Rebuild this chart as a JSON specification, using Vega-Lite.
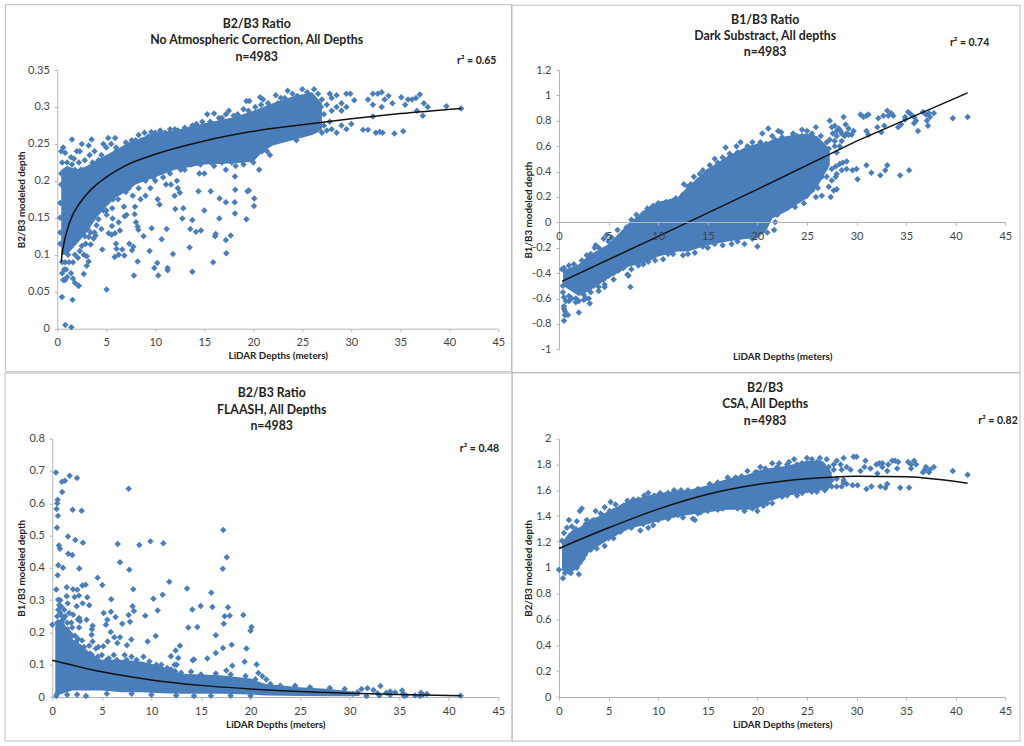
{"$schema":"https://vega.github.io/schema/vega-lite/v6.json","autosize":"none","padding":{"left":52.3,"top":70,"right":971.7,"bottom":676},"background":"white","bounds":"flush","spacing":368.7,
"config":{"view":{"stroke":null},"axis":{"grid":false,"labelFont":"Lato","labelFontSize":11,"labelColor":"#444","domainColor":"#b5b5b5","tickColor":"#b5b5b5","tickSize":3,"labelPadding":5,"titleFont":"Lato","titleFontSize":9.8,"titleFontWeight":"bold","titleColor":"#222","labelExpr":"datum.value+''","labelOverlap":false,"labelBound":false,"labelFlush":false},"title":{"font":"Lato","fontSize":12.3,"fontWeight":"bold","color":"#222","lineHeight":16.4,"anchor":"middle","frame":"group"}},
"datasets":{
"f1":[{"x":-5.29,"x2":46.35,"y":0.4384,"y2":-0.0582}],
"f2":[{"x":-4.74,"x2":46.49,"y":1.71,"y2":-1.182}],
"f3":[{"x":-4.77,"x2":46.4,"y":1.0034,"y2":-0.1363}],
"f4":[{"x":-4.74,"x2":46.49,"y":2.509,"y2":-0.341}],
"t1":[{"x":42.8,"y":0.3626,"t":"r² = 0.65"}],
"t2":[{"x":41.4,"y":1.41,"t":"r² = 0.74"}],
"t3":[{"x":43.1,"y":0.768,"t":"r² = 0.48"}],
"t4":[{"x":44.27,"y":2.135,"t":"r² = 0.82"}],
"a1":[{"x":0.4,"y":0.1,"y2":0.215},{"x":1,"y":0.1,"y2":0.22},{"x":2,"y":0.115,"y2":0.215},{"x":3,"y":0.13,"y2":0.22},{"x":4,"y":0.15,"y2":0.228},{"x":5,"y":0.165,"y2":0.235},{"x":6,"y":0.178,"y2":0.242},{"x":7,"y":0.185,"y2":0.25},{"x":8,"y":0.195,"y2":0.255},{"x":10,"y":0.205,"y2":0.266},{"x":12,"y":0.215,"y2":0.268},{"x":15,"y":0.222,"y2":0.278},{"x":18,"y":0.224,"y2":0.286},{"x":20,"y":0.226,"y2":0.295},{"x":21,"y":0.24,"y2":0.3},{"x":22,"y":0.248,"y2":0.305},{"x":24,"y":0.255,"y2":0.314},{"x":26,"y":0.262,"y2":0.32},{"x":27,"y":0.268,"y2":0.305}],
"a2":[{"x":0.4,"y":-0.5,"y2":-0.38},{"x":2,"y":-0.58,"y2":-0.33},{"x":3,"y":-0.54,"y2":-0.26},{"x":5,"y":-0.44,"y2":-0.17},{"x":7,"y":-0.35,"y2":-0.01},{"x":9,"y":-0.31,"y2":0.12},{"x":10,"y":-0.27,"y2":0.16},{"x":12,"y":-0.23,"y2":0.2},{"x":13,"y":-0.23,"y2":0.28},{"x":15,"y":-0.18,"y2":0.42},{"x":17,"y":-0.15,"y2":0.52},{"x":19,"y":-0.13,"y2":0.6},{"x":20,"y":-0.13,"y2":0.62},{"x":21,"y":-0.05,"y2":0.63},{"x":21.5,"y":0.03,"y2":0.65},{"x":23,"y":0.09,"y2":0.68},{"x":25,"y":0.19,"y2":0.7},{"x":26,"y":0.27,"y2":0.68},{"x":27.3,"y":0.45,"y2":0.58}],
"a3":[{"x":0.3,"y":0.005,"y2":0.22},{"x":0.5,"y":0.005,"y2":0.24},{"x":1,"y":0.01,"y2":0.24},{"x":2,"y":0.02,"y2":0.18},{"x":3,"y":0.02,"y2":0.16},{"x":4,"y":0.02,"y2":0.13},{"x":5,"y":0.02,"y2":0.115},{"x":7,"y":0.015,"y2":0.115},{"x":9,"y":0.015,"y2":0.11},{"x":11,"y":0.012,"y2":0.095},{"x":13,"y":0.01,"y2":0.072},{"x":17,"y":0.01,"y2":0.067},{"x":20,"y":0.008,"y2":0.057},{"x":21.5,"y":0.005,"y2":0.04},{"x":25,"y":0.003,"y2":0.03},{"x":28,"y":0.002,"y2":0.025},{"x":30,"y":0.002,"y2":0.018},{"x":31,"y":0.003,"y2":0.012}],
"a4":[{"x":0.3,"y":0.98,"y2":1.2},{"x":1,"y":0.96,"y2":1.27},{"x":2,"y":1,"y2":1.31},{"x":3,"y":1.12,"y2":1.36},{"x":4,"y":1.17,"y2":1.4},{"x":5,"y":1.22,"y2":1.44},{"x":7,"y":1.3,"y2":1.52},{"x":9,"y":1.34,"y2":1.56},{"x":11,"y":1.38,"y2":1.59},{"x":13,"y":1.41,"y2":1.6},{"x":15,"y":1.43,"y2":1.64},{"x":17,"y":1.45,"y2":1.69},{"x":19,"y":1.45,"y2":1.72},{"x":20,"y":1.46,"y2":1.75},{"x":21,"y":1.51,"y2":1.77},{"x":23,"y":1.56,"y2":1.79},{"x":25,"y":1.58,"y2":1.83},{"x":26.5,"y":1.6,"y2":1.83},{"x":27.5,"y":1.64,"y2":1.74}],
"l1":[{"x":0.4,"y":0.09},{"x":0.5,"y":0.102},{"x":0.7,"y":0.117},{"x":1,"y":0.133},{"x":1.5,"y":0.152},{"x":2,"y":0.164},{"x":3,"y":0.182},{"x":4,"y":0.195},{"x":5,"y":0.205},{"x":7,"y":0.221},{"x":10,"y":0.236},{"x":15,"y":0.254},{"x":20,"y":0.267},{"x":25,"y":0.276},{"x":30,"y":0.284},{"x":35,"y":0.291},{"x":41.2,"y":0.298}],
"l2":[{"x":0.3,"y":-0.465},{"x":10,"y":-0.11},{"x":20,"y":0.26},{"x":30,"y":0.64},{"x":41.2,"y":1.02}],
"l3":[{"x":0,"y":0.114},{"x":5,"y":0.078},{"x":10,"y":0.053},{"x":15,"y":0.036},{"x":20,"y":0.025},{"x":25,"y":0.017},{"x":30,"y":0.012},{"x":35,"y":0.008},{"x":41.2,"y":0.004}],
"l4":[{"x":0,"y":1.15},{"x":5,"y":1.31},{"x":10,"y":1.455},{"x":15,"y":1.57},{"x":20,"y":1.645},{"x":25,"y":1.69},{"x":30,"y":1.71},{"x":35,"y":1.705},{"x":41.2,"y":1.655}],
"p1":[{"x":0.48,"y":0.043},{"x":1.56,"y":0.039},{"x":0.82,"y":0.005},{"x":1.43,"y":0.002},{"x":5.03,"y":0.053},{"x":2.14,"y":0.058},{"x":7.82,"y":0.072},{"x":8.2,"y":0.091},{"x":10.3,"y":0.072},{"x":9.9,"y":0.082},{"x":10.2,"y":0.089},{"x":11.26,"y":0.082},{"x":11.26,"y":0.079},{"x":11.8,"y":0.101},{"x":13.78,"y":0.077},{"x":13.5,"y":0.11},{"x":15.9,"y":0.09},{"x":17.25,"y":0.102},{"x":17.2,"y":0.12},{"x":17.7,"y":0.126},{"x":19.3,"y":0.148},{"x":20.07,"y":0.166},{"x":20.1,"y":0.176},{"x":19.4,"y":0.186},{"x":19.55,"y":0.187},{"x":18.13,"y":0.156},{"x":18.1,"y":0.171},{"x":18.16,"y":0.188},{"x":18.13,"y":0.206},{"x":17.2,"y":0.171},{"x":16.56,"y":0.176},{"x":15.65,"y":0.186},{"x":14.4,"y":0.186},{"x":16.53,"y":0.149},{"x":16.1,"y":0.125},{"x":16.16,"y":0.128},{"x":15,"y":0.16},{"x":13.78,"y":0.147},{"x":12.76,"y":0.149},{"x":12.86,"y":0.163},{"x":12.04,"y":0.162},{"x":12.5,"y":0.184},{"x":11.97,"y":0.18},{"x":13.57,"y":0.135},{"x":14.15,"y":0.131},{"x":14.66,"y":0.133},{"x":11.16,"y":0.135},{"x":10.65,"y":0.121},{"x":10.44,"y":0.168},{"x":10.24,"y":0.175},{"x":9.63,"y":0.136},{"x":9.42,"y":0.105},{"x":8.8,"y":0.125},{"x":8.27,"y":0.134},{"x":8.2,"y":0.138},{"x":8.03,"y":0.144},{"x":7.9,"y":0.155},{"x":7.93,"y":0.165},{"x":7.76,"y":0.111},{"x":7.62,"y":0.106},{"x":7.35,"y":0.115},{"x":6.84,"y":0.099},{"x":6.26,"y":0.1},{"x":5.85,"y":0.097},{"x":5.99,"y":0.115},{"x":6.05,"y":0.108},{"x":6.63,"y":0.107},{"x":4.59,"y":0.107},{"x":5.24,"y":0.129},{"x":5.54,"y":0.127},{"x":5.88,"y":0.129},{"x":6.39,"y":0.133},{"x":5.58,"y":0.139},{"x":6.26,"y":0.144},{"x":5.65,"y":0.149},{"x":5.03,"y":0.154},{"x":6.87,"y":0.152},{"x":7.07,"y":0.154},{"x":6.8,"y":0.165},
{"x":0.4,"y":0.24},{"x":0.6,"y":0.245},{"x":0.8,"y":0.238},{"x":0.5,"y":0.225},{"x":0.7,"y":0.21},{"x":1.5,"y":0.256},{"x":1.4,"y":0.232},{"x":1.7,"y":0.23},{"x":1.5,"y":0.222},{"x":2,"y":0.24},{"x":2.3,"y":0.24},{"x":2.5,"y":0.25},{"x":3.2,"y":0.248},{"x":3.5,"y":0.256},{"x":3.3,"y":0.235},{"x":2.8,"y":0.228},{"x":2.4,"y":0.215},{"x":3.8,"y":0.24},{"x":4.2,"y":0.228},{"x":4.5,"y":0.235},{"x":4.7,"y":0.25},{"x":5.2,"y":0.258},{"x":5.5,"y":0.25},{"x":5.9,"y":0.258},{"x":5,"y":0.245},{"x":6,"y":0.24},{"x":6.5,"y":0.24},{"x":7,"y":0.252},{"x":7.5,"y":0.25},{"x":8,"y":0.255},{"x":8.3,"y":0.262},{"x":8.9,"y":0.265},{"x":9.6,"y":0.266},{"x":10.5,"y":0.268},{"x":11,"y":0.265},{"x":11.5,"y":0.27},{"x":12.3,"y":0.268},{"x":13,"y":0.272},{"x":13.5,"y":0.27},{"x":14.2,"y":0.277},{"x":15.3,"y":0.29},{"x":16,"y":0.291},{"x":16.5,"y":0.285},{"x":17.5,"y":0.295},{"x":18,"y":0.288},{"x":19,"y":0.297},{"x":19.3,"y":0.308},{"x":19.6,"y":0.308},{"x":20.7,"y":0.313},{"x":21,"y":0.31},{"x":21.8,"y":0.3},{"x":22.3,"y":0.316},{"x":22.8,"y":0.312},{"x":23.5,"y":0.322},{"x":24,"y":0.318},{"x":25,"y":0.324},{"x":25.5,"y":0.32},{"x":26.2,"y":0.324},{"x":26.6,"y":0.318},{"x":27,"y":0.31},{"x":27.8,"y":0.318},{"x":28,"y":0.312},{"x":28.5,"y":0.316},{"x":29,"y":0.305},{"x":29.5,"y":0.318},{"x":29.9,"y":0.318},{"x":30.3,"y":0.309},{"x":29.5,"y":0.3},{"x":28.5,"y":0.3},{"x":28,"y":0.295},{"x":27.5,"y":0.303},{"x":29,"y":0.295},{"x":27,"y":0.265},{"x":27.5,"y":0.268},{"x":28,"y":0.27},{"x":28.5,"y":0.265},{"x":29,"y":0.275},{"x":29.5,"y":0.27},{"x":30,"y":0.277},{"x":31.7,"y":0.31},{"x":32.2,"y":0.318},{"x":32.7,"y":0.318},{"x":33.1,"y":0.32},{"x":33.4,"y":0.31},{"x":33.8,"y":0.315},{"x":34.2,"y":0.305},{"x":35.1,"y":0.313},{"x":35.5,"y":0.303},{"x":35.8,"y":0.31},{"x":36.2,"y":0.31},{"x":36.6,"y":0.312},{"x":37,"y":0.317},{"x":37.4,"y":0.305},{"x":37.8,"y":0.3},{"x":36.7,"y":0.295},{"x":37.3,"y":0.288},{"x":32.2,"y":0.303},{"x":32.2,"y":0.287},{"x":31.2,"y":0.269},{"x":31.7,"y":0.269},{"x":32.5,"y":0.265},{"x":32.9,"y":0.266},{"x":33.2,"y":0.265},{"x":34.4,"y":0.264},{"x":35.3,"y":0.267},{"x":39.7,"y":0.301},{"x":41.2,"y":0.298},{"x":33.1,"y":0.3},
{"x":0.5,"y":0.09},{"x":0.7,"y":0.08},{"x":0.5,"y":0.075},{"x":0.9,"y":0.08},{"x":0.8,"y":0.066},{"x":0.6,"y":0.066},{"x":1,"y":0.07},{"x":1.4,"y":0.075},{"x":1.6,"y":0.068},{"x":1.8,"y":0.062},{"x":2.2,"y":0.058},{"x":2.7,"y":0.074},{"x":3,"y":0.085},{"x":3.2,"y":0.091},{"x":2.1,"y":0.096},{"x":1.8,"y":0.1},{"x":2.7,"y":0.1},{"x":3,"y":0.098},{"x":2.5,"y":0.112},{"x":3.4,"y":0.114},{"x":3.7,"y":0.122},{"x":3.9,"y":0.126},{"x":3.2,"y":0.124},{"x":2.8,"y":0.125},{"x":4,"y":0.14},{"x":4.2,"y":0.148},{"x":4.5,"y":0.135},{"x":3.8,"y":0.13},{"x":5,"y":0.16},{"x":4.7,"y":0.16},{"x":5.6,"y":0.163},{"x":6.2,"y":0.175},{"x":7,"y":0.185},{"x":7.7,"y":0.18},{"x":8.5,"y":0.175},{"x":9,"y":0.18},{"x":9.5,"y":0.19},{"x":10,"y":0.2},{"x":11.1,"y":0.195},{"x":11.6,"y":0.195},{"x":12.2,"y":0.2},{"x":12.3,"y":0.19},{"x":13,"y":0.215},{"x":14.5,"y":0.21},{"x":15,"y":0.21},{"x":16,"y":0.22},{"x":17.2,"y":0.215},{"x":18.2,"y":0.22},{"x":19,"y":0.222},{"x":20,"y":0.225},{"x":20.6,"y":0.215},{"x":20.9,"y":0.24},{"x":21.4,"y":0.24},{"x":21.7,"y":0.235},{"x":22.5,"y":0.255},{"x":23.5,"y":0.262},{"x":24.4,"y":0.255},{"x":0.3,"y":0.13},{"x":0.3,"y":0.15},{"x":0.3,"y":0.17},{"x":0.4,"y":0.195},{"x":0.4,"y":0.21},{"x":0.3,"y":0.115},
{"x":1,"y":0.225},{"x":1.2,"y":0.21},{"x":1.8,"y":0.215},{"x":2.2,"y":0.225},{"x":3,"y":0.215},{"x":3.6,"y":0.225},{"x":0.8,"y":0.09},{"x":1.2,"y":0.09},{"x":1.6,"y":0.09},{"x":1.1,"y":0.1},{"x":2.3,"y":0.105},{"x":2.9,"y":0.115},{"x":3.4,"y":0.13},{"x":3.1,"y":0.135},{"x":4.3,"y":0.165},{"x":4.9,"y":0.17},{"x":5.7,"y":0.175},{"x":6.4,"y":0.185},{"x":7.3,"y":0.19},{"x":8.3,"y":0.19},{"x":9,"y":0.2},{"x":9.8,"y":0.205},{"x":10.8,"y":0.205},{"x":11.5,"y":0.21},{"x":12.6,"y":0.215},{"x":13.6,"y":0.222},{"x":14.6,"y":0.222},{"x":15.7,"y":0.225},{"x":16.8,"y":0.225},{"x":17.8,"y":0.225},{"x":18.8,"y":0.228},{"x":6,"y":0.245},{"x":7.6,"y":0.255},{"x":8.6,"y":0.255},{"x":9.3,"y":0.26},{"x":10,"y":0.265},{"x":12,"y":0.27},{"x":13.8,"y":0.275},{"x":14.8,"y":0.28},{"x":15.6,"y":0.28},{"x":16.8,"y":0.285},{"x":17.2,"y":0.29},{"x":18.4,"y":0.29},{"x":19.5,"y":0.295},{"x":20.2,"y":0.3},{"x":20.8,"y":0.303},{"x":21.5,"y":0.305},{"x":22.5,"y":0.305},{"x":23.2,"y":0.312},{"x":24.5,"y":0.315},{"x":26,"y":0.31},{"x":26.9,"y":0.3},{"x":27.2,"y":0.29},{"x":27.2,"y":0.275},{"x":27.8,"y":0.28}],
"p2":[{"x":0.3,"y":-0.37},{"x":0.5,"y":-0.36},{"x":1,"y":-0.34},{"x":1.5,"y":-0.33},{"x":2.3,"y":-0.3},{"x":2.8,"y":-0.26},{"x":3.2,"y":-0.25},{"x":3.6,"y":-0.2},{"x":3.7,"y":-0.18},{"x":4.5,"y":-0.13},{"x":4.8,"y":-0.1},{"x":5.3,"y":-0.12},{"x":5.9,"y":-0.06},{"x":6.3,"y":-0.1},{"x":6.8,"y":-0.04},{"x":7.3,"y":0.02},{"x":7.8,"y":0.06},{"x":8.5,"y":0.07},{"x":8.9,"y":0.11},{"x":9.5,"y":0.13},{"x":10,"y":0.15},{"x":10.8,"y":0.16},{"x":11.5,"y":0.17},{"x":11.8,"y":0.19},{"x":12.3,"y":0.19},{"x":12.6,"y":0.3},{"x":13,"y":0.28},{"x":13.6,"y":0.36},{"x":14,"y":0.33},{"x":14.5,"y":0.41},{"x":15.2,"y":0.45},{"x":15.7,"y":0.5},{"x":16,"y":0.42},{"x":16.5,"y":0.51},{"x":16.8,"y":0.59},{"x":17.2,"y":0.54},{"x":17.9,"y":0.6},{"x":18.3,"y":0.63},{"x":18.8,"y":0.56},{"x":19.5,"y":0.63},{"x":20,"y":0.6},{"x":20.5,"y":0.7},{"x":20.9,"y":0.62},{"x":21.1,"y":0.74},{"x":21.8,"y":0.65},{"x":22.1,"y":0.72},{"x":22.4,"y":0.71},{"x":23,"y":0.65},{"x":23.6,"y":0.7},{"x":24,"y":0.68},{"x":24.5,"y":0.73},{"x":25,"y":0.72},{"x":25.5,"y":0.68},{"x":25.9,"y":0.75},{"x":26.4,"y":0.68},{"x":27,"y":0.63},{"x":26.9,"y":0.55},{"x":27.3,"y":0.8},{"x":27.8,"y":0.76},{"x":28.2,"y":0.74},{"x":28.7,"y":0.83},{"x":28.4,"y":0.72},{"x":28.9,"y":0.77},{"x":29.2,"y":0.69},{"x":29.7,"y":0.72},{"x":28,"y":0.68},{"x":28.5,"y":0.64},{"x":29.2,"y":0.74},{"x":27.6,"y":0.7},{"x":30.4,"y":0.85},{"x":30.7,"y":0.83},{"x":31,"y":0.84},{"x":31.2,"y":0.85},{"x":31,"y":0.72},{"x":31.2,"y":0.69},{"x":32.1,"y":0.75},{"x":32.2,"y":0.82},{"x":32.8,"y":0.76},{"x":32.7,"y":0.84},{"x":33.2,"y":0.84},{"x":33.7,"y":0.84},{"x":33.1,"y":0.88},{"x":33.5,"y":0.86},{"x":34.2,"y":0.75},{"x":34.5,"y":0.77},{"x":34.9,"y":0.81},{"x":35.2,"y":0.87},{"x":35.5,"y":0.85},{"x":35.8,"y":0.83},{"x":36,"y":0.8},{"x":35.8,"y":0.78},{"x":36.2,"y":0.72},{"x":36.7,"y":0.87},{"x":37,"y":0.85},{"x":37.3,"y":0.86},{"x":37.4,"y":0.83},{"x":37.8,"y":0.86},{"x":37.1,"y":0.8},{"x":37.2,"y":0.76},{"x":39.7,"y":0.82},{"x":41.2,"y":0.83},{"x":32.5,"y":0.71},{"x":34.9,"y":0.83},{"x":27.5,"y":0.42},{"x":27.9,"y":0.44},{"x":28.3,"y":0.46},{"x":28.6,"y":0.47},{"x":29,"y":0.48},{"x":28,"y":0.38},{"x":28.5,"y":0.41},{"x":29,"y":0.42},{"x":29.6,"y":0.41},{"x":30,"y":0.42},{"x":30.1,"y":0.34},{"x":31,"y":0.45},{"x":31.5,"y":0.39},{"x":32.4,"y":0.37},{"x":32.9,"y":0.41},{"x":33.1,"y":0.45},{"x":34.4,"y":0.37},{"x":35.3,"y":0.41},{"x":27,"y":0.36},{"x":27.5,"y":0.33},{"x":27.9,"y":0.36},{"x":27.2,"y":0.28},{"x":27.7,"y":0.25},{"x":28,"y":0.26},{"x":27.4,"y":0.2},{"x":26.5,"y":0.21},{"x":25.9,"y":0.2},{"x":26.1,"y":0.27},{"x":25.5,"y":0.25},{"x":25,"y":0.21},{"x":24.7,"y":0.15},{"x":24.2,"y":0.18},{"x":23.8,"y":0.12},{"x":23,"y":0.11},{"x":22.6,"y":0.11},{"x":22,"y":0.12},{"x":21.7,"y":-0.06},{"x":21,"y":-0.08},{"x":20.5,"y":-0.07},{"x":20,"y":-0.19},{"x":19.5,"y":-0.13},{"x":18.7,"y":-0.17},{"x":18,"y":-0.15},{"x":17.4,"y":-0.17},{"x":16.5,"y":-0.18},{"x":15.7,"y":-0.17},{"x":15,"y":-0.2},{"x":14.5,"y":-0.19},{"x":13.7,"y":-0.24},{"x":13,"y":-0.25},{"x":12.5,"y":-0.26},{"x":11.5,"y":-0.25},{"x":11,"y":-0.25},{"x":10.5,"y":-0.29},{"x":9.7,"y":-0.3},{"x":9,"y":-0.31},{"x":8.5,"y":-0.33},{"x":8,"y":-0.34},{"x":7.3,"y":-0.37},{"x":7,"y":-0.42},{"x":6.9,"y":-0.41},{"x":7.2,"y":-0.51},{"x":5.5,"y":-0.45},{"x":5.5,"y":-0.4},{"x":4.6,"y":-0.49},{"x":4.6,"y":-0.51},{"x":4,"y":-0.51},{"x":4,"y":-0.54},{"x":3.2,"y":-0.55},{"x":3,"y":-0.53},{"x":3.1,"y":-0.64},{"x":3,"y":-0.6},{"x":2.7,"y":-0.6},{"x":2.5,"y":-0.61},{"x":2,"y":-0.62},{"x":1.7,"y":-0.63},{"x":1.7,"y":-0.6},{"x":2,"y":-0.71},{"x":1.3,"y":-0.6},{"x":1,"y":-0.62},{"x":0.7,"y":-0.62},{"x":0.5,"y":-0.59},{"x":0.5,"y":-0.66},{"x":0.5,"y":-0.68},{"x":0.6,"y":-0.7},{"x":0.6,"y":-0.73},{"x":0.9,"y":-0.73},{"x":0.5,"y":-0.775},{"x":0.4,"y":-0.5},{"x":0.4,"y":-0.55},
{"x":1,"y":-0.58},{"x":2.5,"y":-0.57},{"x":3.5,"y":-0.5},{"x":4.5,"y":-0.45},{"x":5,"y":-0.42},{"x":6,"y":-0.38},{"x":6.5,"y":-0.36},{"x":4,"y":-0.2},{"x":5,"y":-0.15},{"x":5.5,"y":-0.18},{"x":6.2,"y":-0.15},{"x":7.5,"y":-0.05},{"x":8,"y":0},{"x":9,"y":0.08},{"x":12.5,"y":0.22},{"x":13.3,"y":0.3},{"x":14.2,"y":0.38},{"x":15,"y":0.4},{"x":16,"y":0.47},{"x":17.3,"y":0.52},{"x":18,"y":0.55},{"x":19,"y":0.6},{"x":20.3,"y":0.63},{"x":21.5,"y":0.68},{"x":22.5,"y":0.67},{"x":23.5,"y":0.67},{"x":24.5,"y":0.68},{"x":25.5,"y":0.7},{"x":26.3,"y":0.62},{"x":26.6,"y":0.58},{"x":27.2,"y":0.58},{"x":27.8,"y":0.6},{"x":28,"y":0.55},{"x":27,"y":0.5},{"x":26.8,"y":0.42},{"x":26.5,"y":0.36},{"x":25.7,"y":0.28},{"x":25,"y":0.25},{"x":24,"y":0.2},{"x":23,"y":0.14},{"x":22,"y":0.06},{"x":21.8,"y":0},{"x":27.5,"y":0.75},{"x":28,"y":0.72},{"x":28.5,"y":0.7},{"x":27.3,"y":0.65},{"x":27.8,"y":0.64},{"x":28.3,"y":0.6},{"x":28.8,"y":0.68},{"x":29.5,"y":0.69},{"x":29,"y":0.7}],
"p3":[{"x":0.37,"y":0.695},{"x":1.75,"y":0.685},{"x":2.49,"y":0.678},{"x":0.98,"y":0.667},{"x":1.28,"y":0.67},{"x":1,"y":0.635},{"x":7.7,"y":0.645},{"x":0.54,"y":0.611},{"x":0.5,"y":0.6},{"x":0.44,"y":0.582},{"x":0.57,"y":0.561},{"x":2.05,"y":0.58},{"x":2.96,"y":0.577},{"x":0.47,"y":0.524},{"x":17.25,"y":0.517},{"x":1.58,"y":0.497},{"x":2.32,"y":0.486},{"x":3.09,"y":0.478},{"x":0.67,"y":0.469},{"x":0.77,"y":0.459},{"x":1.61,"y":0.444},{"x":2.02,"y":0.44},{"x":6.6,"y":0.474},{"x":8.78,"y":0.471},{"x":9.9,"y":0.482},{"x":11.2,"y":0.476},{"x":17.6,"y":0.433},{"x":6.83,"y":0.417},{"x":7.77,"y":0.394},{"x":0.6,"y":0.408},{"x":1.08,"y":0.4},{"x":0.54,"y":0.377},{"x":2.72,"y":0.398},{"x":17.2,"y":0.397},{"x":4.57,"y":0.369},{"x":5.05,"y":0.347},{"x":0.4,"y":0.333},{"x":1.45,"y":0.34},{"x":3.03,"y":0.345},{"x":3.36,"y":0.348},{"x":2.09,"y":0.334},{"x":2.52,"y":0.332},{"x":8.17,"y":0.334},{"x":11.8,"y":0.357},{"x":13.6,"y":0.336},{"x":16.04,"y":0.323},{"x":11.13,"y":0.317},{"x":10.2,"y":0.304},{"x":5.95,"y":0.303},{"x":0.6,"y":0.301},{"x":1.45,"y":0.312},{"x":2.25,"y":0.31},{"x":2.69,"y":0.314},{"x":3.53,"y":0.309},{"x":1.55,"y":0.29},{"x":2.46,"y":0.281},{"x":3.06,"y":0.29},{"x":3.73,"y":0.284},{"x":8.1,"y":0.281},{"x":8.24,"y":0.266},{"x":5.18,"y":0.26},{"x":5.92,"y":0.264},{"x":10.63,"y":0.268},{"x":14.97,"y":0.282},{"x":16.15,"y":0.279},{"x":17.73,"y":0.278},{"x":14.13,"y":0.271},{"x":6.39,"y":0.248},{"x":7.7,"y":0.254},{"x":9.38,"y":0.252},{"x":17.39,"y":0.25},{"x":17.9,"y":0.252},{"x":19.27,"y":0.254},{"x":2.72,"y":0.245},{"x":3.46,"y":0.239},{"x":5.55,"y":0.239},{"x":7.84,"y":0.233},{"x":7.06,"y":0.227},{"x":17.3,"y":0.227},{"x":13.72,"y":0.215},{"x":14.63,"y":0.217},{"x":20.1,"y":0.217},{"x":20,"y":0.205},{"x":5.41,"y":0.224},{"x":4.07,"y":0.221},{"x":4,"y":0.21},{"x":5.89,"y":0.201},{"x":16.5,"y":0.191},{"x":10.43,"y":0.189},{"x":9.62,"y":0.172},{"x":6.26,"y":0.185},{"x":6.83,"y":0.185},{"x":7.97,"y":0.178},{"x":5.58,"y":0.172},{"x":6.56,"y":0.167},{"x":7.53,"y":0.16},{"x":3.97,"y":0.193},{"x":4.07,"y":0.172},{"x":3.73,"y":0.159},{"x":4.64,"y":0.155},{"x":5.15,"y":0.157},{"x":12.88,"y":0.159},{"x":12.45,"y":0.144},{"x":11.97,"y":0.126},{"x":12.71,"y":0.121},{"x":12.34,"y":0.1},{"x":12.55,"y":0.1},{"x":17.22,"y":0.152},{"x":18.1,"y":0.162},{"x":19.58,"y":0.15},{"x":16.5,"y":0.136},{"x":15.64,"y":0.119},{"x":14.3,"y":0.116},{"x":14.16,"y":0.114},{"x":19.4,"y":0.109},{"x":20.62,"y":0.101},{"x":18.16,"y":0.097},{"x":17.56,"y":0.082},{"x":20.79,"y":0.074},{"x":21.2,"y":0.064},{"x":21.6,"y":0.054},{"x":0,"y":0.224},
{"x":0.7,"y":0.285},{"x":0.9,"y":0.28},{"x":1.2,"y":0.27},{"x":0.5,"y":0.25},{"x":0.8,"y":0.26},{"x":1.7,"y":0.26},{"x":2.1,"y":0.255},{"x":2.6,"y":0.24},{"x":2.8,"y":0.235},{"x":1.1,"y":0.24},{"x":1.5,"y":0.23},{"x":2,"y":0.215},{"x":2.7,"y":0.215},{"x":1.7,"y":0.2},{"x":2.3,"y":0.19},{"x":1,"y":0.2},{"x":2.6,"y":0.18},{"x":3,"y":0.175},{"x":3.3,"y":0.14},{"x":3.8,"y":0.135},{"x":4.4,"y":0.15},{"x":5,"y":0.13},{"x":5.7,"y":0.12},{"x":6.2,"y":0.13},{"x":7.3,"y":0.13},{"x":8,"y":0.125},{"x":9.2,"y":0.125},{"x":9.8,"y":0.11},{"x":11,"y":0.1},{"x":11.6,"y":0.09},{"x":12.4,"y":0.08},{"x":14,"y":0.078},{"x":15,"y":0.07},{"x":16.5,"y":0.073},{"x":18,"y":0.07},{"x":19.5,"y":0.065},{"x":20.5,"y":0.055},{"x":22,"y":0.04},{"x":23,"y":0.035},{"x":24.5,"y":0.035},{"x":26,"y":0.03},{"x":28,"y":0.028},{"x":29.5,"y":0.025},{"x":30.8,"y":0.015},{"x":31.2,"y":0.025},{"x":31.8,"y":0.027},{"x":31.7,"y":0.003},{"x":32.4,"y":0.022},{"x":32.8,"y":0.012},{"x":33.1,"y":0.034},{"x":33,"y":0.005},{"x":33.7,"y":0.013},{"x":34.1,"y":0.017},{"x":34.1,"y":0.006},{"x":34.6,"y":0.014},{"x":35.3,"y":0.02},{"x":35.4,"y":0.01},{"x":35.5,"y":0.003},{"x":35.7,"y":0.005},{"x":36.6,"y":0.005},{"x":37.2,"y":0.013},{"x":37.4,"y":0.007},{"x":37.8,"y":0.009},{"x":37.1,"y":0.003},{"x":41.2,"y":0.004},{"x":30.3,"y":0.01},{"x":0.4,"y":0.003},{"x":0.5,"y":0.01},{"x":1.5,"y":0.007},{"x":2.5,"y":0.008},{"x":3.4,"y":0.003},{"x":5.5,"y":0.01},{"x":8,"y":0.01},{"x":10,"y":0.007},{"x":12.5,"y":0.005},{"x":14.3,"y":0.003},{"x":16,"y":0.004},{"x":18,"y":0.004},{"x":20,"y":0.004},
{"x":1.5,"y":0.21},{"x":2,"y":0.19},{"x":2.4,"y":0.17},{"x":3.2,"y":0.155},{"x":4,"y":0.13},{"x":4.6,"y":0.125},{"x":5.5,"y":0.115},{"x":6.5,"y":0.115},{"x":7.5,"y":0.115},{"x":8.5,"y":0.115},{"x":10.5,"y":0.1},{"x":12,"y":0.085},{"x":13,"y":0.075},{"x":1,"y":0.25},{"x":0.6,"y":0.27},{"x":0.5,"y":0.23},{"x":1.3,"y":0.25},{"x":1.9,"y":0.23},{"x":0.8,"y":0.3}],
"p4":[{"x":0.3,"y":1.21},{"x":0.5,"y":1.27},{"x":0.8,"y":1.31},{"x":1,"y":1.37},{"x":1.3,"y":1.32},{"x":1.7,"y":1.3},{"x":1.8,"y":1.36},{"x":2.1,"y":1.44},{"x":2.3,"y":1.46},{"x":2.7,"y":1.34},{"x":2.8,"y":1.37},{"x":3.3,"y":1.36},{"x":3.7,"y":1.44},{"x":4.2,"y":1.42},{"x":4.6,"y":1.47},{"x":5.1,"y":1.44},{"x":5.2,"y":1.51},{"x":5.7,"y":1.49},{"x":6.3,"y":1.47},{"x":6.9,"y":1.52},{"x":7.5,"y":1.53},{"x":8,"y":1.53},{"x":8.6,"y":1.56},{"x":9,"y":1.58},{"x":9.6,"y":1.56},{"x":10.2,"y":1.58},{"x":11,"y":1.58},{"x":11.6,"y":1.6},{"x":12.3,"y":1.6},{"x":13,"y":1.6},{"x":14,"y":1.61},{"x":15.2,"y":1.65},{"x":16,"y":1.66},{"x":17,"y":1.7},{"x":17.8,"y":1.7},{"x":18.4,"y":1.71},{"x":19,"y":1.75},{"x":19.8,"y":1.74},{"x":20.3,"y":1.78},{"x":20.8,"y":1.77},{"x":21.5,"y":1.81},{"x":22.2,"y":1.81},{"x":23,"y":1.8},{"x":23.2,"y":1.82},{"x":23.7,"y":1.84},{"x":24.5,"y":1.81},{"x":25,"y":1.85},{"x":25.5,"y":1.84},{"x":26.3,"y":1.85},{"x":27,"y":1.84},{"x":26.6,"y":1.8},{"x":27.7,"y":1.8},{"x":28,"y":1.83},{"x":28.7,"y":1.85},{"x":28.4,"y":1.8},{"x":27.7,"y":1.76},{"x":28.5,"y":1.76},{"x":29,"y":1.78},{"x":29.4,"y":1.76},{"x":29.7,"y":1.86},{"x":30,"y":1.86},{"x":30.4,"y":1.75},{"x":30.8,"y":1.78},{"x":30.9,"y":1.83},{"x":31.4,"y":1.77},{"x":32,"y":1.8},{"x":32.3,"y":1.81},{"x":32.6,"y":1.81},{"x":32.1,"y":1.73},{"x":32.6,"y":1.78},{"x":33.1,"y":1.75},{"x":33.2,"y":1.8},{"x":33.6,"y":1.83},{"x":33.9,"y":1.83},{"x":34.2,"y":1.82},{"x":34.1,"y":1.77},{"x":35.2,"y":1.82},{"x":35.5,"y":1.8},{"x":35.8,"y":1.83},{"x":36,"y":1.8},{"x":35.5,"y":1.77},{"x":36.9,"y":1.76},{"x":37,"y":1.78},{"x":37.3,"y":1.74},{"x":37.4,"y":1.76},{"x":37.8,"y":1.78},{"x":36.7,"y":1.74},{"x":39.7,"y":1.75},{"x":41.2,"y":1.72},{"x":27,"y":1.62},{"x":27.5,"y":1.63},{"x":28,"y":1.63},{"x":28.5,"y":1.63},{"x":28.7,"y":1.66},{"x":29,"y":1.65},{"x":29.6,"y":1.64},{"x":30.1,"y":1.64},{"x":31,"y":1.61},{"x":31.5,"y":1.63},{"x":32.4,"y":1.63},{"x":32.9,"y":1.62},{"x":33.1,"y":1.65},{"x":34.4,"y":1.62},{"x":35.3,"y":1.62},{"x":28,"y":1.69},{"x":28.7,"y":1.68},{"x":27.5,"y":1.68},{"x":0,"y":0.985},{"x":0.4,"y":0.92},{"x":0.6,"y":0.96},{"x":1.2,"y":0.96},{"x":2,"y":0.95},{"x":1.5,"y":1},{"x":2.1,"y":1.04},{"x":2.4,"y":1.07},{"x":2.8,"y":1.13},{"x":3.2,"y":1.14},{"x":3.8,"y":1.15},{"x":4.6,"y":1.17},{"x":4.5,"y":1.22},{"x":5.5,"y":1.23},{"x":5.7,"y":1.27},{"x":6.2,"y":1.28},{"x":6.7,"y":1.31},{"x":7.3,"y":1.31},{"x":8.2,"y":1.29},{"x":9,"y":1.31},{"x":9.5,"y":1.33},{"x":10,"y":1.37},{"x":11,"y":1.38},{"x":12.5,"y":1.39},{"x":13.5,"y":1.38},{"x":13.7,"y":1.37},{"x":14.3,"y":1.43},{"x":15,"y":1.44},{"x":16.5,"y":1.46},{"x":18,"y":1.46},{"x":18.7,"y":1.44},{"x":20,"y":1.44},{"x":20.6,"y":1.48},{"x":21.5,"y":1.5},{"x":22.5,"y":1.55},{"x":24,"y":1.56},{"x":24.5,"y":1.58},{"x":26,"y":1.59},
{"x":1.5,"y":1.28},{"x":2.5,"y":1.31},{"x":3.5,"y":1.37},{"x":4.5,"y":1.4},{"x":5.5,"y":1.44},{"x":6.5,"y":1.48},{"x":8,"y":1.51},{"x":10,"y":1.56},{"x":12,"y":1.58},{"x":14,"y":1.6},{"x":16,"y":1.64},{"x":18,"y":1.69},{"x":20,"y":1.74},{"x":22,"y":1.78},{"x":24,"y":1.8},{"x":26,"y":1.82},{"x":27.2,"y":1.78},{"x":1,"y":0.97},{"x":1.8,"y":1},{"x":2.6,"y":1.1},{"x":3.5,"y":1.17},{"x":5,"y":1.23},{"x":7,"y":1.32},{"x":8.5,"y":1.34},{"x":10.5,"y":1.39},{"x":12,"y":1.41},{"x":14,"y":1.42},{"x":16,"y":1.45},{"x":19.5,"y":1.46},{"x":21,"y":1.5},{"x":23,"y":1.56},{"x":25.5,"y":1.59},{"x":26.8,"y":1.6}]
},
"vconcat":[
{"hconcat":[
{"width":446,"height":258.7,"title":{"text":["B2/B3 Ratio","No Atmospheric Correction, All Depths","n=4983"],"dx":-18.6,"offset":-59},
"encoding":{"x":{"field":"x","type":"quantitative","scale":{"domain":[0,45],"range":[5,446],"nice":false,"zero":false},"axis":{"values":[0,5,10,15,20,25,30,35,40,45],"title":"LiDAR Depths (meters)","titleY":22}},"y":{"field":"y","type":"quantitative","scale":{"domain":[0,0.35],"nice":false,"zero":false},"axis":{"values":[0,0.05,0.1,0.15,0.2,0.25,0.3,0.35],"title":"B2/B3 modeled depth","offset":-5,"titleX":-31}}},
"layer":[
{"data":{"name":"f1"},"mark":{"type":"rect","fill":null,"stroke":"#bdbdbd","strokeWidth":1},"encoding":{"x2":{"field":"x2"},"y2":{"field":"y2"}}},
{"data":{"name":"a1"},"mark":{"type":"area","color":"#4a7ebb"},"encoding":{"y2":{"field":"y2"}}},
{"data":{"name":"p1"},"mark":{"type":"point","shape":"diamond","filled":true,"size":42,"color":"#4a7ebb","opacity":1}},
{"data":{"name":"l1"},"mark":{"type":"line","color":"#111","strokeWidth":1.5,"interpolate":"monotone"}},
{"data":{"name":"t1"},"mark":{"type":"text","font":"Lato","fontSize":10.5,"fontWeight":"bold","color":"#222"},"encoding":{"text":{"field":"t"}}}
]},
{"width":446.3,"height":279.3,"title":{"text":["B1/B3 Ratio","Dark Substract, All depths","n=4983"],"dx":-17,"offset":-54},
"encoding":{"x":{"field":"x","type":"quantitative","scale":{"domain":[0,45],"nice":false,"zero":false},"axis":{"values":[0,5,10,15,20,25,30,35,40,45],"title":"LiDAR Depths (meters)","offset":-127.3,"titleY":129,"zindex":1}},"y":{"field":"y","type":"quantitative","scale":{"domain":[-1,1.2],"nice":false,"zero":false},"axis":{"values":[-1,-0.8,-0.6,-0.4,-0.2,0,0.2,0.4,0.6,0.8,1,1.2],"title":"B1/B3 modeled depth","titleX":-26}}},
"layer":[
{"data":{"name":"f2"},"mark":{"type":"rect","fill":null,"stroke":"#bdbdbd","strokeWidth":1},"encoding":{"x2":{"field":"x2"},"y2":{"field":"y2"}}},
{"data":{"name":"a2"},"mark":{"type":"area","color":"#4a7ebb"},"encoding":{"y2":{"field":"y2"}}},
{"data":{"name":"p2"},"mark":{"type":"point","shape":"diamond","filled":true,"size":42,"color":"#4a7ebb","opacity":1}},
{"data":{"name":"l2"},"mark":{"type":"line","color":"#111","strokeWidth":1.5}},
{"data":{"name":"t2"},"mark":{"type":"text","font":"Lato","fontSize":10.5,"fontWeight":"bold","color":"#222"},"encoding":{"text":{"field":"t"}}}
]}
],"spacing":60.7,"bounds":"flush"},
{"hconcat":[
{"width":446,"height":258.3,"title":{"text":["B2/B3 Ratio","FLAASH, All Depths","n=4983"],"dx":-3.6,"offset":-59.7},
"encoding":{"x":{"field":"x","type":"quantitative","scale":{"domain":[0,45],"nice":false,"zero":false},"axis":{"values":[0,5,10,15,20,25,30,35,40,45],"title":"LiDAR Depths (meters)","titleY":22}},"y":{"field":"y","type":"quantitative","scale":{"domain":[0,0.8],"nice":false,"zero":false},"axis":{"values":[0,0.1,0.2,0.3,0.4,0.5,0.6,0.7,0.8],"title":"B1/B3 modeled depth","titleX":-26}}},
"layer":[
{"data":{"name":"f3"},"mark":{"type":"rect","fill":null,"stroke":"#bdbdbd","strokeWidth":1},"encoding":{"x2":{"field":"x2"},"y2":{"field":"y2"}}},
{"data":{"name":"a3"},"mark":{"type":"area","color":"#4a7ebb"},"encoding":{"y2":{"field":"y2"}}},
{"data":{"name":"p3"},"mark":{"type":"point","shape":"diamond","filled":true,"size":42,"color":"#4a7ebb","opacity":1}},
{"data":{"name":"l3"},"mark":{"type":"line","color":"#111","strokeWidth":1.5,"interpolate":"monotone"}},
{"data":{"name":"t3"},"mark":{"type":"text","font":"Lato","fontSize":10.5,"fontWeight":"bold","color":"#222"},"encoding":{"text":{"field":"t"}}}
]},
{"width":446.3,"height":258.3,"title":{"text":["B2/B3","CSA, All Depths","n=4983"],"dx":-17,"offset":-54.7},
"encoding":{"x":{"field":"x","type":"quantitative","scale":{"domain":[0,45],"nice":false,"zero":false},"axis":{"values":[0,5,10,15,20,25,30,35,40,45],"title":"LiDAR Depths (meters)","titleY":22}},"y":{"field":"y","type":"quantitative","scale":{"domain":[0,2],"nice":false,"zero":false},"axis":{"values":[0,0.2,0.4,0.6,0.8,1,1.2,1.4,1.6,1.8,2],"title":"B2/B3 modeled depth","titleX":-26}}},
"layer":[
{"data":{"name":"f4"},"mark":{"type":"rect","fill":null,"stroke":"#bdbdbd","strokeWidth":1},"encoding":{"x2":{"field":"x2"},"y2":{"field":"y2"}}},
{"data":{"name":"a4"},"mark":{"type":"area","color":"#4a7ebb"},"encoding":{"y2":{"field":"y2"}}},
{"data":{"name":"p4"},"mark":{"type":"point","shape":"diamond","filled":true,"size":42,"color":"#4a7ebb","opacity":1}},
{"data":{"name":"l4"},"mark":{"type":"line","color":"#111","strokeWidth":1.5,"interpolate":"monotone"}},
{"data":{"name":"t4"},"mark":{"type":"text","font":"Lato","fontSize":10.5,"fontWeight":"bold","color":"#222"},"encoding":{"text":{"field":"t"}}}
]}
],"spacing":60.7,"bounds":"flush"}
]}
